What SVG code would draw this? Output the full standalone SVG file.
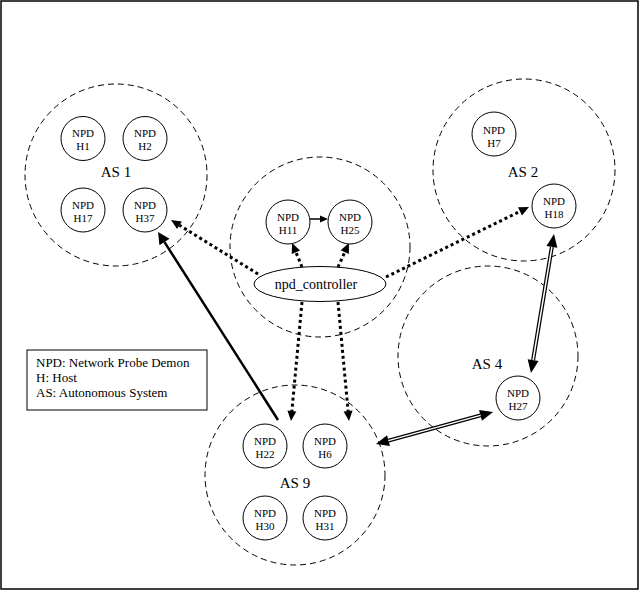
<svg xmlns="http://www.w3.org/2000/svg" width="640" height="592" viewBox="0 0 640 592">
<style>
  .as { fill: none; stroke: #000; stroke-width: 1; stroke-dasharray: 6 4; }
  .node { fill: #fff; stroke: #000; stroke-width: 1; }
  .nt { font-family: "Liberation Serif", "Times New Roman", serif; font-size: 11px; text-anchor: middle; fill: #000; }
  .asl { font-family: "Liberation Serif", "Times New Roman", serif; font-size: 15px; text-anchor: middle; fill: #000; }
  .ctl { font-family: "Liberation Serif", "Times New Roman", serif; font-size: 14px; text-anchor: middle; fill: #000; }
  .leg { font-family: "Liberation Serif", "Times New Roman", serif; font-size: 13px; fill: #000; }
  .dot { fill: none; stroke: #000; stroke-width: 3; stroke-dasharray: 3 3; }
  .solid { fill: none; stroke: #000; stroke-width: 2.5; }
  .thin { fill: none; stroke: #000; stroke-width: 1.5; }
  .dblo { fill: none; stroke: #000; stroke-width: 4; }
  .dbli { fill: none; stroke: #fff; stroke-width: 1.5; }
</style>
<defs>
  <marker id="ah" markerUnits="userSpaceOnUse" markerWidth="12" markerHeight="12" refX="0" refY="6" orient="auto" overflow="visible">
    <path d="M0,1.5 L10,6 L0,10.5 z" fill="#000"/>
  </marker>
  <marker id="ahs" markerUnits="userSpaceOnUse" markerWidth="10" markerHeight="10" refX="0" refY="5" orient="auto" overflow="visible">
    <path d="M0,1.5 L8,5 L0,8.5 z" fill="#000"/>
  </marker>
  <marker id="ahb" markerUnits="userSpaceOnUse" markerWidth="14" markerHeight="14" refX="0" refY="7" orient="auto" overflow="visible">
    <path d="M0,1 L12,7 L0,13 z" fill="#000"/>
  </marker>
  <marker id="ahd" markerUnits="userSpaceOnUse" markerWidth="14" markerHeight="14" refX="0" refY="7" orient="auto-start-reverse" overflow="visible">
    <path d="M0,1.5 L13,7 L0,12.5 z" fill="#000"/>
  </marker>
</defs>
<rect x="1" y="1" width="637" height="588" fill="#fff" stroke="#000" stroke-width="1.5"/>

<g id="as-groups">
  <circle id="as1" class="as" cx="116" cy="175" r="91"/>
  <circle id="as-ctrl" class="as" cx="320" cy="247" r="90"/>
  <circle id="as2" class="as" cx="524" cy="170" r="91"/>
  <circle id="as4" class="as" cx="488" cy="356" r="90"/>
  <circle id="as9" class="as" cx="295" cy="475" r="90"/>
  <text class="asl" x="116" y="177">AS 1</text>
  <text class="asl" x="523" y="177">AS 2</text>
  <text class="asl" x="487" y="369">AS 4</text>
  <text class="asl" x="295" y="488">AS 9</text>
</g>

<g id="connectors">
  <line class="dot" x1="258" y1="274" x2="179.5" y2="225.3" marker-end="url(#ah)"/>
  <line class="dot" x1="386" y1="277" x2="520" y2="211.4" marker-end="url(#ah)"/>
  <line class="dot" x1="302" y1="267" x2="295.9" y2="252.2" marker-end="url(#ah)"/>
  <line class="dot" x1="338" y1="267" x2="344.8" y2="252.1" marker-end="url(#ah)"/>
  <line class="dot" x1="302" y1="302" x2="291.9" y2="411" marker-end="url(#ah)"/>
  <line class="dot" x1="338" y1="302" x2="348.1" y2="411" marker-end="url(#ah)"/>
  <line class="thin" x1="310" y1="219" x2="320" y2="219" marker-end="url(#ahs)"/>
  <line class="solid" x1="278" y1="420" x2="164.5" y2="242.1" marker-end="url(#ahb)"/>
  <line class="dblo" x1="551.9" y1="246.8" x2="533.1" y2="360.2" marker-start="url(#ahd)" marker-end="url(#ahd)"/>
  <line class="dbli" x1="551.9" y1="246.8" x2="533.1" y2="360.2"/>
  <line class="dblo" x1="480.5" y1="415.4" x2="388.5" y2="440.6" marker-start="url(#ahd)" marker-end="url(#ahd)"/>
  <line class="dbli" x1="480.5" y1="415.4" x2="388.5" y2="440.6"/>
</g>

<g id="npd_controller">
  <ellipse class="node" cx="320" cy="284" rx="66" ry="17.5"/>
  <text class="ctl" x="316" y="289">npd_controller</text>
</g>

<g id="H1"><circle class="node" cx="83" cy="138.5" r="22"/><text class="nt" x="83" y="137">NPD</text><text class="nt" x="83" y="150">H1</text></g>
<g id="H2"><circle class="node" cx="145" cy="138.5" r="22"/><text class="nt" x="145" y="137">NPD</text><text class="nt" x="145" y="150">H2</text></g>
<g id="H17"><circle class="node" cx="83" cy="210" r="22"/><text class="nt" x="83" y="209">NPD</text><text class="nt" x="83" y="222">H17</text></g>
<g id="H37"><circle class="node" cx="145" cy="210" r="22"/><text class="nt" x="145" y="209">NPD</text><text class="nt" x="145" y="222">H37</text></g>
<g id="H11"><circle class="node" cx="288" cy="222" r="22"/><text class="nt" x="288" y="221">NPD</text><text class="nt" x="288" y="234">H11</text></g>
<g id="H25"><circle class="node" cx="350" cy="222" r="22"/><text class="nt" x="350" y="221">NPD</text><text class="nt" x="350" y="234">H25</text></g>
<g id="H7"><circle class="node" cx="494" cy="134" r="22"/><text class="nt" x="494" y="134">NPD</text><text class="nt" x="494" y="147">H7</text></g>
<g id="H18"><circle class="node" cx="554" cy="206" r="22"/><text class="nt" x="554" y="205">NPD</text><text class="nt" x="554" y="218">H18</text></g>
<g id="H27"><circle class="node" cx="518" cy="398" r="22"/><text class="nt" x="518" y="397">NPD</text><text class="nt" x="518" y="410">H27</text></g>
<g id="H22"><circle class="node" cx="265" cy="446" r="22"/><text class="nt" x="265" y="445">NPD</text><text class="nt" x="265" y="458">H22</text></g>
<g id="H6"><circle class="node" cx="325" cy="446" r="22"/><text class="nt" x="325" y="445">NPD</text><text class="nt" x="325" y="458">H6</text></g>
<g id="H30"><circle class="node" cx="265" cy="518" r="22"/><text class="nt" x="265" y="517">NPD</text><text class="nt" x="265" y="530">H30</text></g>
<g id="H31"><circle class="node" cx="325" cy="518" r="22"/><text class="nt" x="325" y="517">NPD</text><text class="nt" x="325" y="530">H31</text></g>

<g id="legend">
  <rect x="27" y="350" width="180" height="60" fill="#fff" stroke="#000" stroke-width="1"/>
  <text class="leg" x="36" y="367">NPD: Network Probe Demon</text>
  <text class="leg" x="36" y="382">H: Host</text>
  <text class="leg" x="36" y="397">AS: Autonomous System</text>
</g>
</svg>
